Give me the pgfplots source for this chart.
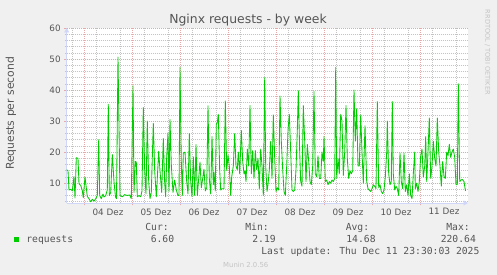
\documentclass[border=0pt]{standalone}
\usepackage{pgfplots}
\pgfplotsset{compat=1.18}
\usepackage{fontspec}
\setmainfont{DejaVu Sans}
\newfontfamily\monofont{DejaVu Sans Mono}
\usetikzlibrary{arrows.meta}
\definecolor{bg}{HTML}{F0F0F0}
\definecolor{txt}{HTML}{555555}
\definecolor{mgrid}{HTML}{E6A8A8}
\definecolor{sgrid}{HTML}{C4C4C4}
\definecolor{axblue}{HTML}{CFD6F8}
\definecolor{lgreen}{HTML}{00CC00}
\definecolor{faint}{HTML}{C4C4C4}
\pgfplotstableread{
h v
-8.65 14.3
-8 14
-7.5 7.8
-6.65 8
-5.85 7.5
-5 12.1
-4.5 5.2
-3.85 18.2
-3 18
-2.5 9.8
-1.65 9.3
-0.85 7.6
-0.35 5.3
0.5 12
1.65 5.7
2.5 5
3.35 4
4.15 4.8
5 4.2
5.85 5
6.65 6
7.35 24
7.85 6
8.65 5
9.5 6.5
10 5.5
10.85 6
11.65 7.8
12.15 35.4
12.65 6
13.35 7
14.15 19.2
15 10.5
15.75 5.5
16.25 5
17 50.6
18 6
19.15 5.6
20.35 6.3
21.65 6
22.85 6.2
23.65 5
24.5 41.4
25 7
25.65 17
26.15 16.8
26.65 5.6
27.5 6
28.35 5.6
29 7.5
29.65 34.4
30.35 14
31 6.5
31.65 30
32.35 10.5
33 5
33.65 7
34.65 29.3
35.35 14
36.15 5.6
36.65 11.5
37.35 20.3
38 14
38.85 7
39.65 24.4
40.35 10
40.85 5.6
41.35 18.5
42 26.2
42.5 7.3
43 30.5
43.65 16
44.5 7
45.35 11
46.15 7.8
47 6
47.5 6
48 47.3
48.65 17
49.15 6
49.65 19.7
50.5 20
51.35 10.5
52 6.5
52.65 26
53.35 10.5
54 5.6
54.65 18.5
55.35 6
56 22.4
56.65 6
57.35 11.5
58 16.8
58.65 8.5
59.35 11.5
60 14.5
60.65 7.5
61.35 8.5
62 34.9
62.65 11.5
63.35 6.5
64 25
64.65 9.5
65 13.5
65.65 7.5
66.15 29
66.65 29.5
67.15 32.2
67.85 14
68.35 7.8
69 8.2
70 8.2
70.65 36.5
71.35 14
72 19
72.65 15.5
73.35 6
73.85 12
74.65 15.5
75.35 26
76 15.5
76.65 14.3
77.15 20
77.85 13
78.65 27
79.35 17
80 13
80.5 14
81 10.5
81.65 21
82.35 15.5
83 35
83.65 13
84.35 20.5
85 11.5
85.65 20.5
86.35 14.3
87 18
87.65 8.2
88.35 21
89 15.5
89.65 6
90.35 44
90.85 15.5
91.5 7.3
92 9.5
92.65 14.3
93.35 23.5
94 11.5
94.65 32
95.35 18
96 7.3
96.65 8.5
97.35 7.8
98 38.1
98.65 23.5
99.35 14.3
100 7.3
100.65 6
101.35 15.5
102 27
102.65 32.2
103.35 20
104 7.8
104.65 7.3
105.35 7.8
106 14.3
106.65 27
107.15 39.8
107.85 20
108.35 10.5
109 9
109.65 35
110.35 23.5
111 10.5
111.65 22.5
112.35 17
113 10.5
113.65 9.5
114.35 15.5
115 39.5
115.65 13
116.35 12
117 18.8
117.65 11.5
118.35 11.5
119 20
119.65 17
120 25.1
120.65 10.5
121.35 11
122 9.5
122.65 10.5
123.35 10
124 11
124.65 10.5
125.35 11.5
125.85 47.3
126.35 11.5
127 18
127.65 13
128.35 32.2
129 30
129.65 12.5
130.35 20
131 35
131.65 18
132.35 11.5
133 14
133.65 13
134.35 14
135 40
135.65 23.5
136.35 34
137 15.5
137.65 15.5
138.35 32
139 20
139.65 10
140.5 28.5
141.35 10.5
142 8.2
142.65 7.8
143.35 7.3
144 8.2
144.65 9.5
145.35 9
146 8.2
146.65 36.3
147.35 8.5
148 9.5
148.65 7.3
149.35 6.6
150 7.8
150.65 12
151.35 20
151.65 30
152.35 13
153 9.5
153.65 10.5
154.15 36.3
154.65 13
155.35 7.8
156 9
156.65 8.2
157.35 6
158 19.7
158.65 10.5
159.35 8.2
160 19.7
160.65 7.3
161.35 9.5
162 6
162.65 13
163.35 6
164 5
164.65 13
165.35 20
165.65 8.2
166.35 10
167 7.3
167.65 10.5
168.35 18.8
169 21
169.65 12
170.35 15.5
170.85 25
171.35 10.5
172 20
172.65 31
173.35 11.5
174 15.5
174.65 23.5
175.35 18
176 15.5
176.65 31
177.35 20
178 15.5
178.65 9
179.35 17
180 12
180.65 11.5
181.35 20
182 18.8
182.65 22.5
183.35 18.3
184 20
184.65 21
185.35 18.3
186 9.5
186.65 9.5
187.15 42
187.85 10.5
188.5 11
189.15 11.2
190 10.5
190.75 7.5
}\requests
\begin{document}
\begin{tikzpicture}
\useasboundingbox (0pt,0pt) rectangle (497pt,275pt);
\fill[bg] (0pt,0pt) rectangle (497pt,275pt);
\begin{axis}[
  at={(66.7pt,72pt)}, anchor=south west,
  scale only axis, width=401.3pt, height=175pt,
  xmin=-8.65, xmax=192, ymin=3.6, ymax=60,
  axis background/.style={fill=white},
  axis x line=bottom, axis y line=left,
  axis line style={draw=axblue, line width=0.8pt, -{Triangle[length=4.5pt,width=5pt]}},
  xtick={0,24,...,168}, xticklabels={},
  minor xtick={-6,6,18,30,42,54,66,78,90,102,114,126,138,150,162,174,186},
  extra x ticks={12,36,60,84,108,132,156,180},
  extra x tick labels={04 Dez,05 Dez,06 Dez,07 Dez,08 Dez,09 Dez,10 Dez,11 Dez},
  extra x tick style={grid=none, major tick length=0pt},
  xticklabel style={yshift=-2pt},
  ytick={10,20,...,60},
  minor ytick={4,6,...,58},
  grid=both,
  major grid style={draw=mgrid, line width=0.6pt, dash pattern=on 1pt off 1pt},
  minor grid style={draw=sgrid, line width=0.6pt, dash pattern=on 1pt off 1pt},
  tick align=outside,
  major tick length=2.5pt, minor tick length=1.5pt,
  major tick style={draw=mgrid, line width=0.6pt},
  minor tick style={draw=sgrid, line width=0.6pt},
  ticklabel style={font=\fontsize{8.8}{10}\selectfont, text=txt},
  /pgf/number format/assume math mode=true,
  clip=true,
]
\addplot[lgreen, line width=0.85pt, line join=round, mark=none] table[x=h, y=v] {\requests};
\end{axis}
\node[font=\fontsize{12.4}{14}\selectfont, text=txt, anchor=base, inner sep=0] at (248pt,251pt) {Nginx requests - by week};
\node[font=\fontsize{10.8}{12}\selectfont, text=txt, rotate=90] at (11pt,161.5pt) {Requests per second};
\node[font=\fontsize{6.6}{7}\selectfont, text=faint, rotate=-90] at (487.5pt,222.5pt) {RRDTOOL / TOBI OETIKER};
\fill[lgreen] (14pt,32.7pt) rectangle (19.3pt,38.3pt);
\begin{scope}[every node/.style={font=\monofont\fontsize{9.7}{11}\selectfont, text=txt, anchor=base west, inner sep=0}]
\node at (26.2pt,32.7pt) {requests};
\node at (145.2pt,44pt) {Cur:};
\node at (150.6pt,32.3pt) {6.60};
\node at (245.2pt,44pt) {Min:};
\node at (252.2pt,32.3pt) {2.19};
\node at (345.6pt,44pt) {Avg:};
\node at (346.2pt,32.3pt) {14.68};
\node at (446.2pt,44pt) {Max:};
\node at (440.6pt,32.3pt) {220.64};
\node at (261.2pt,20pt) {Last update: Thu Dec 11 23:30:03 2025};
\end{scope}
\node[font=\fontsize{6.9}{8}\selectfont, text=faint, anchor=base west, inner sep=0] at (223pt,7.7pt) {Munin 2.0.56};
\end{tikzpicture}
\end{document}
